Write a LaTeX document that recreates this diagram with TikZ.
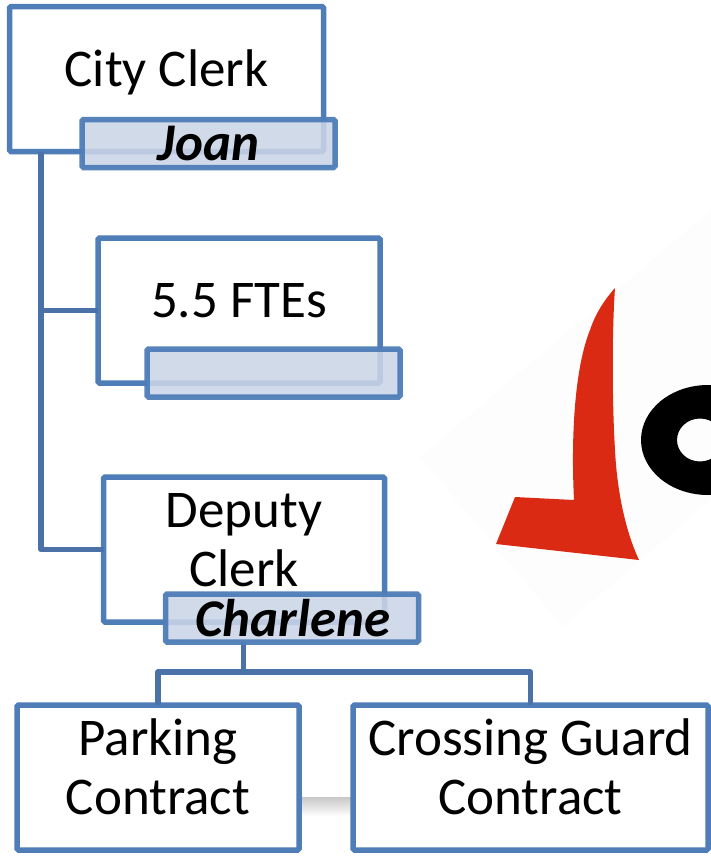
\documentclass[tikz,border=0pt]{standalone}
\usepackage{fontspec}
\setmainfont{Carlito}
\definecolor{boxblue}{HTML}{4F7DB8}
\definecolor{linkblue}{HTML}{4A72A8}
\definecolor{namefill}{HTML}{CBD5E7}
\definecolor{logored}{HTML}{DB2A14}
\definecolor{logopaper}{HTML}{FDFDFE}
\tikzset{
  orgbox/.style={draw=boxblue,fill=white,line width=5.5pt,rounded corners=1.5pt,inner sep=0pt,outer sep=0pt},
  namebox/.style={draw=boxblue,draw opacity=.95,fill=namefill,fill opacity=.88,text opacity=1,line width=5.5pt,rounded corners=1.5pt,
    inner sep=0pt,outer sep=0pt,minimum width=253pt,minimum height=48pt,font=\fontsize{53pt}{60pt}\selectfont\bfseries\itshape},
  boxtext/.style={font=\fontsize{53pt}{59pt}\selectfont,align=center,inner sep=0pt,outer sep=0pt,text=black},
  link/.style={draw=linkblue,line width=5.5pt,line join=round}
}
\begin{document}
\begin{tikzpicture}[x=1pt,y=-1pt]
\useasboundingbox (0,0) rectangle (711,857);
% logo behind the chart
\begin{scope}
\clip (0,0) rectangle (711,857);
\fill[logopaper] (420,457) -- (711,210) -- (711,500) -- (563,627) -- cycle;
\fill[logored] (615,288) .. controls (612,330) and (612,400) .. (615,450)
   .. controls (617,490) and (625,530) .. (639,560) -- (496,544) -- (515,497) -- (574,500)
   .. controls (571,440) and (574,370) .. (590,330) .. controls (596,312) and (606,298) .. (615,288) -- cycle;
\fill[black,even odd rule] (708,440) ellipse [x radius=67pt,y radius=55pt]
   (700,440) ellipse [x radius=23pt,y radius=21.5pt];
\end{scope}
% soft shadow between the two contract boxes
\shade[top color=black!22,bottom color=white] (299,797) rectangle (353,816);
% chart nodes
\node[orgbox,minimum width=314pt,minimum height=145pt,label={[boxtext,yshift=7pt]center:City Clerk}] (city) at (166.5,79) {};
\node[orgbox,minimum width=282pt,minimum height=145pt,label={[boxtext,yshift=10pt]center:5.5 FTEs}] (fte) at (239,310.5) {};
\node[orgbox,minimum width=281pt,minimum height=145pt,label={[boxtext,yshift=9pt]center:Deputy\\Clerk}] (deputy) at (244,549.5) {};
\node[orgbox,minimum width=282pt,minimum height=145pt,label={[boxtext,yshift=11pt]center:Parking\\Contract}] (parking) at (158,777.5) {};
\node[orgbox,minimum width=355pt,minimum height=145pt,label={[boxtext,yshift=11pt]center:Crossing Guard\\Contract}] (crossing) at (530.5,777.5) {};
% connectors
\coordinate (trunk) at (41,152);
\coordinate (charfoot) at (243.5,642);
\coordinate (bus) at (243.5,672);
\draw[link] (city.south -| trunk) -- (trunk |- deputy.west) -- (deputy.west);
\draw[link] (trunk |- fte.west) -- (fte.west);
\draw[link] (charfoot) -- (bus);
\draw[link] (parking.north) -- (parking.north |- bus) -- (crossing.north |- bus) -- (crossing.north);
% name plates
\node[namebox,text depth=0pt] (joan) at (208.5,143.5) {\raisebox{1pt}{Joan}};
\node[namebox] (blank) at (273.5,373) {};
\node[namebox] (charlene) at (292,618) {\hspace{1.5pt}Charlene};
\end{tikzpicture}
\end{document}
